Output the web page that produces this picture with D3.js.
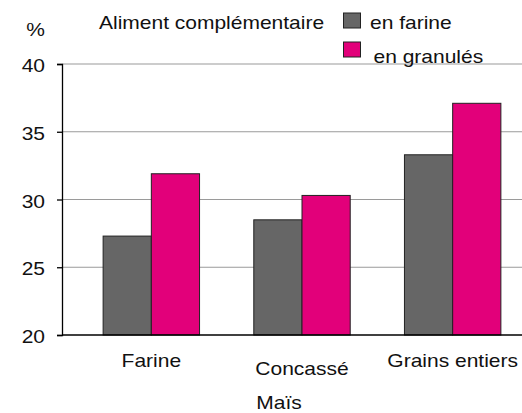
<!DOCTYPE html>
<html>
<head>
<meta charset="utf-8">
<script src="https://cdn.jsdelivr.net/npm/d3@7"></script>
<style>
  body { margin: 0; background: #fff; }
  text { font-family: "Liberation Sans", Arial, sans-serif; fill: #111; }
</style>
</head>
<body>
<div id="chart"></div>
<script>
// data
const categories = ["Farine", "Concassé", "Grains entiers"]
const series = ["en farine", "en granulés"]
const valuesFarine = [27.3, 28.5, 33.3]
const valuesGranules = [31.9, 30.3, 37.1]
const yTicks = [20, 25, 30, 35, 40]
const colors = ["#666666", "#e2007a"]

const width = 522, height = 413
const fontSize = "17.5px"
const stretch = 1.2   // the reference type is a bit wider than Arial

const svg = d3.select("#chart").append("svg")
  .attr("width", width)
  .attr("height", height)

const axisX = 62
const y = d3.scaleLinear().domain([20, 40]).range([335, 64])

// groups are not centred on the plot: the right edge is cut off
const x = d3.scaleBand().domain(categories).range([76, 528]).paddingInner(0.36).paddingOuter(0.18)
const xs = d3.scaleBand().domain(series).range([0, x.bandwidth()])

// text helper, stretched horizontally
function label(sel, tx, ty, str, anchor) {
  return sel.append("text")
    .attr("transform", "translate(" + tx + "," + ty + ") scale(" + stretch + ",1)")
    .attr("text-anchor", anchor || "start")
    .style("font-size", fontSize)
    .text(str)
}

// gridlines
svg.append("g")
  .selectAll("line")
  .data(yTicks.filter(d => d > 20))
  .enter()
  .append("line")
    .attr("x1", axisX)
    .attr("x2", width)
    .attr("y1", d => y(d))
    .attr("y2", d => y(d))
    .attr("stroke", "#9a9a9a")
    .attr("stroke-width", 1.2)

// bars
const rows = categories.map((c, i) => ({ cat: c, vals: [valuesFarine[i], valuesGranules[i]] }))
const grp = svg.selectAll("g.cat")
  .data(rows)
  .enter()
  .append("g")
    .attr("class", "cat")
    .attr("transform", d => "translate(" + x(d.cat) + ",0)")

grp.selectAll("rect")
  .data(d => d.vals.map((v, j) => ({ s: series[j], v, j })))
  .enter()
  .append("rect")
    .attr("x", d => xs(d.s))
    .attr("width", xs.bandwidth())
    .attr("y", d => y(d.v))
    .attr("height", d => y(20) - y(d.v))
    .attr("fill", d => colors[d.j])
    .attr("stroke", "#222")
    .attr("stroke-width", 1)

// y axis
const yAxis = svg.append("g")
  .attr("transform", "translate(" + axisX + ",0)")
  .call(d3.axisLeft(y).tickValues(yTicks).tickSize(5).tickPadding(9.2))
yAxis.select(".domain").attr("stroke", "#000").attr("stroke-width", 1.3)
yAxis.selectAll(".tick line").attr("stroke", "#000").attr("stroke-width", 1.3)
yAxis.selectAll("text")
  .style("font-size", fontSize)
  .attr("fill", "#111")
  .attr("dy", "0.44em")
  .attr("transform", "scale(" + stretch + ",1)")

// x baseline
svg.append("line")
  .attr("x1", axisX).attr("x2", width)
  .attr("y1", y(20)).attr("y2", y(20))
  .attr("stroke", "#000").attr("stroke-width", 1.3)

// category labels
categories.forEach((c, i) => {
  label(svg, x(c) + x.bandwidth() / 2, i === 1 ? 375 : 367, c, "middle")
})

// axis titles
label(svg, 279, 409, "Maïs", "middle")
label(svg, 35.5, 36, "%", "middle")

// legend
label(svg, 99, 29, "Aliment complémentaire")

const legend = svg.selectAll("g.leg")
  .data(series)
  .enter()
  .append("g")
    .attr("class", "leg")
legend.append("rect")
  .attr("x", 343.5)
  .attr("y", (d, i) => 13 + i * 29)
  .attr("width", 17).attr("height", 15)
  .attr("fill", (d, i) => colors[i])
  .attr("stroke", "#222")
legend.each(function(d, i) {
  label(d3.select(this), i === 0 ? 370 : 373.5, i === 0 ? 29 : 63, d)
})
</script>
</body>
</html>
